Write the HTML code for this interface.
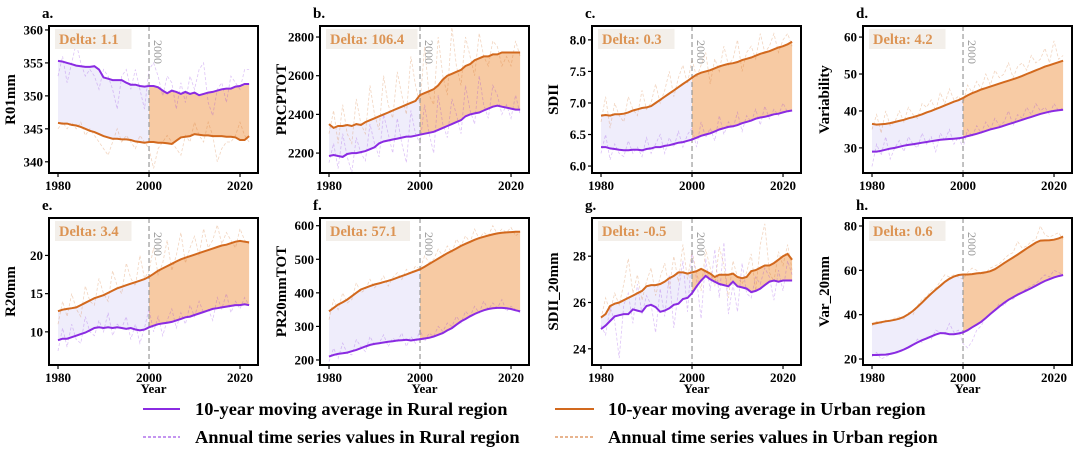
<!DOCTYPE html>
<html><head><meta charset="utf-8"><style>
body{margin:0;background:#fff}
svg{display:block;font-family:"Liberation Serif",serif}
</style></head><body>
<svg id="c" width="1080" height="459" viewBox="0 0 1080 459">
<g>
<line x1="143" y1="409" x2="180" y2="409" stroke="#8a2be2" stroke-width="2"/>
<text x="195" y="415" font-size="18.4" font-weight="bold">10-year moving average in Rural region</text>
<line x1="143" y1="437" x2="180" y2="437" stroke="#8a2be2" stroke-width="1" stroke-dasharray="3,2"/>
<text x="195" y="443" font-size="18.4" font-weight="bold">Annual time series values in Rural region</text>
<line x1="555" y1="409" x2="594" y2="409" stroke="#d2691e" stroke-width="2"/>
<text x="608" y="415" font-size="18.4" font-weight="bold">10-year moving average in Urban region</text>
<line x1="555" y1="437" x2="594" y2="437" stroke="#d2691e" stroke-width="1" stroke-dasharray="3,2"/>
<text x="608" y="443" font-size="18.4" font-weight="bold">Annual time series values in Urban region</text>
</g>
</svg>
<script>
const years=[];for(let y=1980;y<=2022;y++)years.push(y);
const xTicks=[1980,2000,2020];
// a
const aRMA=[355.3,355.2,355,354.8,354.6,354.5,354.4,354.4,354.5,354,352.8,352.6,352.4,352.4,352.4,352,351.7,351.7,351.5,351.4,351.5,351.5,351.3,350.8,350.4,350.8,350.6,350.3,350.6,350.3,350.5,350.1,350.3,350.5,350.6,350.8,351,351.1,351.1,351.4,351.5,351.8,351.8];
const aUMA=[345.9,345.8,345.8,345.6,345.5,345.3,345,344.7,344.5,344.2,343.9,343.7,343.5,343.5,343.4,343.4,343.3,343.1,343,342.9,343,343,342.9,342.9,342.8,342.7,343.2,343.7,343.8,343.9,344.2,344.1,344,344,343.9,343.9,343.9,343.8,343.8,343.7,343.3,343.3,343.9];
const aRA=[353,356,352,355,358,355,353,354,353,351,354,353,351,348,353,354,351,354,351,348,354,355,353,350,353,352,348,352,349,353,351,354,355,349,347,351,352,349,353,352,351,354,354];
const aUA=[345,346,345,346,345,346,344,345,344,343,342,341,343,345,343,344,343,342,344,343,342,339,342,343,344,343,342,341,344,343,346,344,343,346,344,340,342,343,343,344,346,344,343];
// b
const bRMA=[2185,2190,2185,2180,2195,2200,2200,2205,2210,2220,2230,2250,2260,2265,2270,2275,2280,2285,2285,2290,2295,2300,2305,2310,2320,2330,2340,2350,2360,2370,2390,2400,2405,2410,2420,2430,2440,2445,2440,2435,2430,2425,2425];
const bUMA=[2350,2330,2340,2340,2345,2340,2350,2345,2360,2370,2380,2390,2400,2410,2420,2430,2440,2450,2460,2470,2500,2510,2520,2530,2550,2580,2600,2610,2620,2630,2650,2660,2680,2690,2700,2700,2710,2710,2720,2720,2720,2720,2720];
const bRA=[2150,2250,2120,2300,2180,2100,2280,2200,2160,2350,2250,2180,2400,2300,2200,2380,2250,2150,2420,2300,2250,2450,2300,2200,2500,2350,2280,2480,2400,2300,2550,2420,2350,2600,2450,2380,2550,2500,2400,2450,2380,2500,2400];
const bUA=[2300,2420,2250,2450,2300,2250,2480,2350,2300,2550,2400,2320,2600,2450,2380,2620,2500,2400,2700,2550,2450,2750,2500,2450,2800,2600,2500,2850,2650,2550,2800,2700,2600,2820,2700,2650,2780,2750,2650,2700,2650,2780,2700];
// c
const cRMA=[6.3,6.3,6.28,6.27,6.26,6.25,6.25,6.26,6.26,6.25,6.27,6.28,6.3,6.3,6.32,6.33,6.35,6.37,6.38,6.4,6.42,6.45,6.48,6.5,6.52,6.55,6.58,6.6,6.62,6.63,6.65,6.68,6.7,6.72,6.75,6.77,6.78,6.8,6.82,6.83,6.85,6.87,6.88];
const cUMA=[6.8,6.81,6.8,6.82,6.82,6.83,6.85,6.88,6.9,6.92,6.93,6.95,7,7.05,7.1,7.15,7.2,7.25,7.3,7.35,7.4,7.45,7.48,7.5,7.52,7.55,7.58,7.6,7.62,7.63,7.65,7.68,7.7,7.72,7.75,7.78,7.8,7.82,7.85,7.88,7.9,7.93,7.97];
const cRA=[6.2,6.5,6.1,6.35,6.2,6.15,6.4,6.2,6.3,6.15,6.45,6.2,6.35,6.5,6.2,6.45,6.3,6.55,6.3,6.5,6.6,6.3,6.7,6.45,6.6,6.4,6.8,6.5,6.7,6.6,6.85,6.55,6.8,6.7,6.9,6.65,6.95,6.75,6.9,6.8,7,6.85,6.9];
const cUA=[6.7,7.1,6.6,7.0,6.8,6.7,7.1,6.9,6.8,7.2,6.9,7.0,7.3,7.0,7.2,7.5,7.1,7.4,7.6,7.3,7.7,7.4,7.6,7.8,7.3,7.7,7.5,7.9,7.6,7.7,8.0,7.5,7.8,7.9,7.7,8.1,7.8,7.9,8.1,7.8,8.0,8.1,7.9];
// d
const dRMA=[29,29,29.2,29.5,29.8,30,30.3,30.6,30.8,31,31.2,31.4,31.6,31.8,32,32.2,32.3,32.4,32.5,32.6,32.8,33.2,33.5,33.8,34.2,34.6,35,35.3,35.6,36,36.4,36.8,37.2,37.6,38,38.4,38.8,39.2,39.5,39.8,40,40.2,40.3];
const dUMA=[36.5,36.3,36.4,36.5,36.7,37,37.3,37.6,38,38.3,38.7,39.1,39.6,40,40.5,41,41.5,42,42.5,42.9,43.5,44.2,44.8,45.3,45.8,46.2,46.6,47,47.4,47.8,48.2,48.6,49,49.5,50,50.5,51,51.5,52,52.4,52.8,53.2,53.6];
const dRA=[25,31,28,33,27,30,32,29,33,31,30,34,31,33,29,34,32,35,31,33,30,35,33,36,34,37,35,38,36,37,40,36,39,38,41,39,42,40,41,39,42,40,41];
const dUA=[35,39,34,40,36,37,40,37,41,39,38,42,41,43,40,45,42,46,43,44,42,47,45,48,46,50,47,51,49,50,53,49,52,53,51,55,53,54,57,53,59,54,55];
// e
const eRMA=[8.9,9.1,9.1,9.3,9.5,9.7,9.9,10.2,10.5,10.6,10.5,10.6,10.5,10.6,10.5,10.4,10.5,10.3,10.2,10.3,10.6,10.8,11,11.1,11.2,11.3,11.5,11.7,11.9,12,12.2,12.4,12.6,12.8,13,13.1,13.2,13.3,13.4,13.5,13.5,13.6,13.5];
const eUMA=[12.7,12.9,13,13.1,13.2,13.5,13.8,14.1,14.4,14.6,14.8,15.1,15.4,15.7,15.9,16.1,16.3,16.5,16.7,16.9,17.2,17.6,18,18.3,18.6,18.9,19.2,19.5,19.7,19.9,20.1,20.3,20.5,20.7,20.9,21.1,21.3,21.4,21.6,21.8,21.9,21.8,21.7];
const eRA=[7.5,10.5,8,11,9,8.5,12,10,9.5,11.5,10,12.5,9.5,11,10.5,12,9,11,8.5,10.5,13,10,12,9.5,11.5,13,10.5,12.5,11,13.5,12,14,12.5,13,11.5,14.5,13,15,12.5,14,13,14.5,13.5];
const eUA=[11,14,12,15,13,12,16,14,13.5,17,15,14,18,16,15,19,17,16,20,17,18,21,17.5,19,22,18,20,23,19,21,22.5,20,23.5,21,22,24,21.5,23,22,21,23.5,22,21.5];
// f
const fRMA=[210,215,218,220,222,226,230,235,240,245,248,250,252,254,256,258,259,260,258,260,262,264,266,270,275,280,288,295,305,315,322,330,337,343,348,352,354,355,355,354,352,348,345];
const fUMA=[345,355,365,372,380,390,400,410,415,420,425,428,432,436,440,445,450,455,460,465,470,478,486,494,502,510,518,525,532,540,546,552,558,563,567,571,574,577,579,580,581,582,582];
const fRA=[195,235,205,250,220,215,260,240,225,270,245,250,275,240,265,255,280,240,270,250,290,255,280,270,300,285,310,300,330,310,345,330,360,340,375,350,370,355,380,345,360,350,340];
const fUA=[320,380,350,400,370,380,430,400,410,440,415,430,450,420,445,460,440,470,455,480,470,510,490,500,530,510,540,520,560,540,570,550,590,560,580,570,600,575,590,580,595,570,580];
// g
const gRMA=[24.85,25,25.2,25.4,25.45,25.5,25.5,25.7,25.65,25.6,25.85,25.9,25.8,25.6,25.65,25.75,25.9,25.95,26.15,26.2,26.4,26.7,26.95,27.15,27,26.9,26.8,26.75,26.7,26.9,26.7,26.65,26.6,26.45,26.5,26.6,26.75,26.9,26.95,26.9,26.95,26.95,26.95];
const gUMA=[25.35,25.5,25.85,25.95,26,26.1,26.2,26.3,26.4,26.5,26.7,26.75,26.75,26.8,26.9,27.05,27.15,27.3,27.3,27.25,27.3,27.35,27.45,27.35,27.25,27.1,27.2,27.2,27.2,27.25,27.1,27.05,27.1,27.35,27.4,27.5,27.6,27.6,27.7,27.85,28,28.1,27.85];
const gRA=[25,24.6,25.8,25.2,23.6,25.9,26.4,25.1,26.8,25.5,26.3,25.9,24.7,26.6,25.4,27.2,24.9,26.5,27.8,25.6,28.2,27,25.3,27.9,26.5,28.3,26.2,28.6,25.5,26.8,25.6,27.7,26.4,26.2,27.1,26.8,27.5,27.1,26.1,27.4,26.5,27.8,27.2];
const gUA=[25.3,26.2,25.6,26.4,25.9,26.8,27.9,26.4,27.2,26.1,26.9,27.5,26.3,27.1,27.7,26.6,28,26.9,28.5,27,28.2,27.3,26.5,28.3,27.5,26.7,28.4,27.6,26.2,27.8,27.1,26.8,27.3,28.1,26.5,28.5,29.4,27.3,26.9,28.2,27.6,28.5,27.4];
// h
const hRMA=[21.8,21.8,21.9,22,22.3,22.8,23.5,24.3,25.3,26.4,27.5,28.5,29.3,30.2,31,31.7,31.6,31.2,31.2,31.5,32,33,34.3,35.5,36.8,38.5,40.3,42,43.7,45.3,46.7,47.9,49,50,51,52,53,54.2,55.2,56,56.8,57.4,57.9];
const hUMA=[35.8,36.2,36.6,37,37.3,37.7,38.2,39,40.2,41.7,43.5,45.5,47.5,49.5,51.3,53,54.8,56.2,57.2,57.9,58.1,58.1,58.3,58.6,58.8,59.1,59.6,60.5,61.8,63.2,64.5,65.8,67.1,68.5,69.9,71.2,72.5,73.4,73.5,73.6,73.8,74.4,75.2];
const hRA=[21,23,20,21,22,22.5,23,24,25,26,29,27.5,30,29,33,32,31,36,32,33,27,25,28,33,35,39,40,42,45,44,47,47,49,50,52,53,54,56,58,57,60,59,58];
const hUA=[35,37,36,37.5,37,38.5,39,38,41,40,44,47,48,51,52,55,58,57,58,57,56,59,61,60,58,59,61,62,63,65,67,68,73,70,71,73,74,80,76,75,76,77,74];

const panels=[
 {id:'a',lab:'R01mm',col:0,row:0,ymin:338.3,ymax:360.6,ticks:[340,345,350,355,360],rma:aRMA,uma:aUMA,ra:aRA,ua:aUA,delta:'1.1'},
 {id:'b',lab:'PRCPTOT',col:1,row:0,ymin:2097,ymax:2857,ticks:[2200,2400,2600,2800],rma:bRMA,uma:bUMA,ra:bRA,ua:bUA,delta:'106.4'},
 {id:'c',lab:'SDII',col:2,row:0,ymin:5.89,ymax:8.22,ticks:[6.0,6.5,7.0,7.5,8.0],fmt:1,rma:cRMA,uma:cUMA,ra:cRA,ua:cUA,delta:'0.3'},
 {id:'d',lab:'Variability',col:3,row:0,ymin:23.2,ymax:63,ticks:[30,40,50,60],rma:dRMA,uma:dUMA,ra:dRA,ua:dUA,delta:'4.2'},
 {id:'e',lab:'R20mm',col:0,row:1,ymin:5.66,ymax:24.9,ticks:[10,15,20],rma:eRMA,uma:eUMA,ra:eRA,ua:eUA,delta:'3.4'},
 {id:'f',lab:'PR20mmTOT',col:1,row:1,ymin:185,ymax:623,ticks:[200,300,400,500,600],rma:fRMA,uma:fUMA,ra:fRA,ua:fUA,delta:'57.1'},
 {id:'g',lab:'SDII_20mm',col:2,row:1,ymin:23.3,ymax:29.65,ticks:[24,26,28],rma:gRMA,uma:gUMA,ra:gRA,ua:gUA,delta:'-0.5'},
 {id:'h',lab:'Var_20mm',col:3,row:1,ymin:17.3,ymax:83.6,ticks:[20,40,60,80],rma:hRMA,uma:hUMA,ra:hRA,ua:hUA,delta:'0.6'}
];
const NS='http://www.w3.org/2000/svg';
const svg=document.getElementById('c');
function mk(t,a,p){const e=document.createElementNS(NS,t);for(const k in a)e.setAttribute(k,a[k]);(p||svg).appendChild(e);return e;}
const colL=[49,320,592,863],rowT=[26,218],W=209,H=147,X0=1978.02,X1=2023.95;
panels.forEach(p=>{
 const L=colL[p.col],T=rowT[p.row],B=T+H;
 const g=mk('g',{});
 
 
 const x=v=>L+(v-X0)/(X1-X0)*W;
 const y=v=>B-(v-p.ymin)/(p.ymax-p.ymin)*H;
 const ln=(arr,i0,i1)=>{let s='';for(let i=i0;i<=i1;i++)s+=(i==i0?'M':'L')+x(years[i]).toFixed(1)+','+y(arr[i]).toFixed(1);return s;};
 const area=(i0,i1)=>{let s=ln(p.rma,i0,i1);for(let i=i1;i>=i0;i--)s+='L'+x(years[i]).toFixed(1)+','+y(p.uma[i]).toFixed(1);return s+'Z';};
 const f1=mk('path',{d:area(0,20),fill:'#efedfb'},g);
 
 
 const f2=mk('path',{d:area(20,42),fill:'#f7caa3'},g);
 
 
 const ra=mk('path',{d:ln(p.ra,0,42),fill:'none',stroke:'#8a2be2','stroke-width':0.8,'stroke-dasharray':'3,2',opacity:0.28},g);
 
 
 const ua=mk('path',{d:ln(p.ua,0,42),fill:'none',stroke:'#d2691e','stroke-width':0.8,'stroke-dasharray':'3,2',opacity:0.28},g);
 
 
 const vl=mk('line',{x1:x(2000),x2:x(2000),y1:T,y2:B,stroke:'#999','stroke-width':1.2,'stroke-dasharray':'5,3'},g);
 
 
 const vt=mk('text',{x:x(2000)+5,y:T+14,'font-size':12,fill:'#999',transform:`rotate(90 ${x(2000)+5} ${T+14})`},g);
 vt.textContent='2000';
 
 
 const rm=mk('path',{d:ln(p.rma,0,42),fill:'none',stroke:'#8a2be2','stroke-width':2},g);
 
 
 const um=mk('path',{d:ln(p.uma,0,42),fill:'none',stroke:'#d2691e','stroke-width':2},g);
 
 
 const db=mk('rect',{x:L+6,y:T+3,width:p.delta.length*7.5+54,height:20,fill:'#f3efea'},g);
 
 
 const dt=mk('text',{x:L+10,y:T+18,'font-size':14.5,'font-weight':'bold',fill:'#dc9454'},g);
 dt.textContent='Delta: '+p.delta;
 
 
 const fr=mk('rect',{x:L,y:T,width:W,height:H,fill:'none',stroke:'#000','stroke-width':2},g);
 
 
 xTicks.forEach(v=>{
  const tk=mk('line',{x1:x(v),x2:x(v),y1:B,y2:B+4,stroke:'#000','stroke-width':1.2},g);
  
  
  const t=mk('text',{x:x(v),y:B+17,'font-size':13,'font-weight':'bold','text-anchor':'middle'},g);
  t.textContent=v;
  
  
 });
 p.ticks.forEach(v=>{
  const tk=mk('line',{x1:L-4,x2:L,y1:y(v),y2:y(v),stroke:'#000','stroke-width':1.2},g);
  
  
  const t=mk('text',{x:L-6,y:y(v)+4.5,'font-size':13,'font-weight':'bold','text-anchor':'end'},g);
  t.textContent=p.fmt?v.toFixed(1):v;
  
  
 });
 const yl=mk('text',{x:0,y:0,'font-size':15,'font-weight':'bold','text-anchor':'middle',transform:`translate(${L-34} ${T+H/2}) rotate(-90)`},g);
 yl.textContent=p.lab;
 
 
 const pl=mk('text',{x:L-7,y:T-8,'font-size':15,'font-weight':'bold'},g);
 pl.textContent=p.id+'.';
 
 
 if(p.row==1){
  const xl=mk('text',{x:L+W/2,y:B+28,'font-size':13,'font-weight':'bold','text-anchor':'middle'},g);
  xl.textContent='Year';
  
  
 }
});
</script>
</body></html>
